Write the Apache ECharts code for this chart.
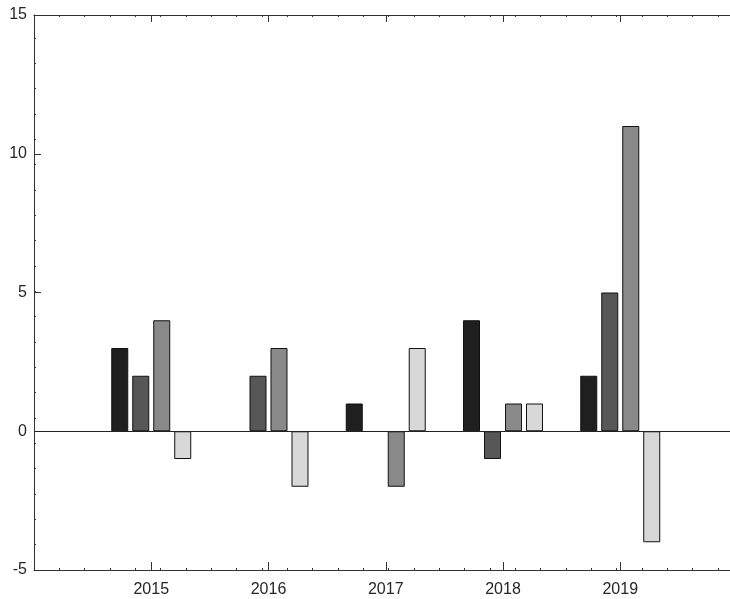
<!DOCTYPE html>
<html>
<head>
<meta charset="utf-8">
<script src="https://cdn.jsdelivr.net/npm/echarts@6/dist/echarts.min.js"></script>
<style>
html,body{margin:0;padding:0;background:#fff;}
#chart{width:730px;height:599px;}
</style>
</head>
<body>
<div id="chart"></div>
<script>
const years = [2015, 2016, 2017, 2018, 2019];
const yearLabels = ['2015', '2016', '2017', '2018', '2019'];
const series1 = [3, null, 1, 4, 2];
const series2 = [2, 2, null, -1, 5];
const series3 = [4, 3, -2, 1, 11];
const series4 = [-1, -2, 3, 1, -4];
const yTickValues = [-5, 0, 5, 10, 15];
const yTickLabels = ['-5', '0', '5', '10', '15'];
const colors = ['#1f1f1f', '#575757', '#898989', '#d8d8d8'];

const chart = echarts.init(document.getElementById('chart'), null, {renderer: 'canvas'});
const font = {fontFamily: 'Liberation Sans', fontSize: 16, color: '#262626'};
const axisLine = {show: true, onZero: false, lineStyle: {color: '#333', width: 1}};
const noLine = {show: false, onZero: false};

function mk(vals, idx) {
  return {
    type: 'bar',
    xAxisIndex: 0,
    yAxisIndex: 0,
    barWidth: 17,
    barGap: '23.5%',
    data: years.map((y, i) => [y, vals[i] == null ? '-' : vals[i]]),
    itemStyle: {color: colors[idx], borderColor: '#111', borderWidth: 1},
    silent: true
  };
}

const s = [mk(series1, 0), mk(series2, 1), mk(series3, 2), mk(series4, 3)];
s[0].markLine = {
  silent: true, symbol: ['none', 'none'], label: {show: false},
  lineStyle: {color: '#222', width: 1, type: 'solid'},
  data: [{yAxis: 0}]
};

chart.setOption({
  animation: false,
  backgroundColor: '#fff',
  grid: {left: 34, right: 0, top: 15, bottom: 29, containLabel: false},
  xAxis: [
    {
      type: 'value', position: 'bottom', offset: 0,
      min: 2014, max: 2019.936, interval: 1,
      axisLine: axisLine,
      axisTick: {show: true, inside: true, length: 8, lineStyle: {color: '#333'}},
      axisLabel: Object.assign({
        margin: 12,
        showMaxLabel: false,
        formatter: v => { const i = years.indexOf(v); return i >= 0 ? yearLabels[i] : ''; }
      }, font),
      splitLine: {show: false}
    },
    {
      type: 'value', position: 'top', offset: 0,
      min: 2014, max: 2019.936, interval: 1,
      axisLine: axisLine,
      axisTick: {show: true, inside: true, length: 7, lineStyle: {color: '#333'}},
      axisLabel: {show: false},
      splitLine: {show: false}
    },
    {
      type: 'value', position: 'bottom', offset: 0,
      min: 0, max: 27.48, interval: 1,
      axisLine: noLine,
      axisTick: {show: true, inside: true, length: 2, lineStyle: {color: '#333'}},
      axisLabel: {show: false},
      splitLine: {show: false}
    },
    {
      type: 'value', position: 'top', offset: 0,
      min: 0, max: 27.48, interval: 1,
      axisLine: noLine,
      axisTick: {show: true, inside: true, length: 2, lineStyle: {color: '#333'}},
      axisLabel: {show: false},
      splitLine: {show: false}
    }
  ],
  yAxis: [
    {
      type: 'value', position: 'left', offset: 0,
      min: -5, max: 15, interval: 5,
      axisLine: axisLine,
      axisTick: {show: true, inside: true, length: 7, lineStyle: {color: '#333'}},
      axisLabel: Object.assign({
        margin: 7,
        formatter: v => { const i = yTickValues.indexOf(v); return i >= 0 ? yTickLabels[i] : ''; }
      }, font),
      splitLine: {show: false}
    },
    {
      type: 'value', position: 'left', offset: 0,
      min: 0, max: 21.91, interval: 1,
      axisLine: noLine,
      axisTick: {show: true, inside: true, length: 2, lineStyle: {color: '#333'}},
      axisLabel: {show: false},
      splitLine: {show: false}
    }
  ],
  series: s
});
</script>
</body>
</html>
